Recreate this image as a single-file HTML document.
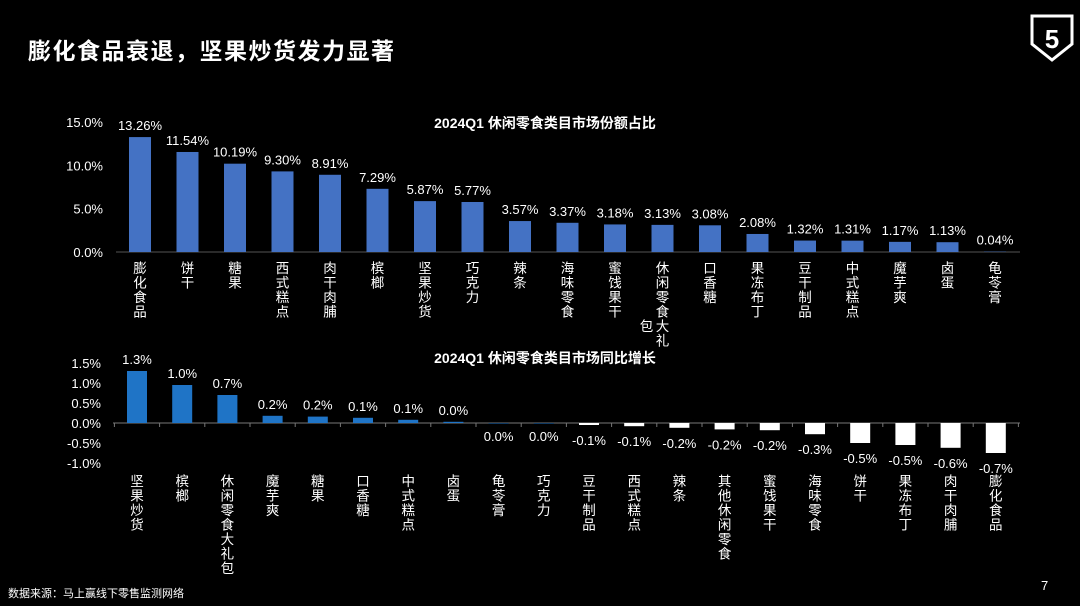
<!DOCTYPE html>
<html><head><meta charset="utf-8">
<style>
html,body{margin:0;padding:0;background:#000;}
body{width:1080px;height:606px;overflow:hidden;position:relative;font-family:"Liberation Sans","Noto Sans CJK SC",sans-serif;color:#fff;}
.title{position:absolute;left:28px;top:32px;font-size:23px;font-weight:bold;letter-spacing:1.5px;}
.src{position:absolute;left:8px;top:585px;font-size:11px;}
.pg{position:absolute;left:1041px;top:578px;font-size:13px;}
svg{position:absolute;left:0;top:0;}
</style></head><body>
<div class="title">膨化食品衰退，坚果炒货发力显著</div>
<div class="src">数据来源：马上赢线下零售监测网络</div>
<div class="pg">7</div>
<svg width="1080" height="606" id="chart">
  <g transform="translate(1030,14)">
    <path d="M2 2 H42 V30 L22 46 L2 30 Z" fill="none" stroke="#fff" stroke-width="3"/>
    <text x="22" y="34" font-size="26" font-weight="bold" fill="#fff" text-anchor="middle" font-family="Liberation Sans,sans-serif">5</text>
  </g>
</svg>
<script>
const topCats=["膨化食品","饼干","糖果","西式糕点","肉干肉脯","槟榔","坚果炒货","巧克力","辣条","海味零食","蜜饯果干","休闲零食大礼包","口香糖","果冻布丁","豆干制品","中式糕点","魔芋爽","卤蛋","龟苓膏"];
const topVals=[13.26,11.54,10.19,9.30,8.91,7.29,5.87,5.77,3.57,3.37,3.18,3.13,3.08,2.08,1.32,1.31,1.17,1.13,0.04];
const topTicks=[0,5,10,15];
const botCats=["坚果炒货","槟榔","休闲零食大礼包","魔芋爽","糖果","口香糖","中式糕点","卤蛋","龟苓膏","巧克力","豆干制品","西式糕点","辣条","其他休闲零食","蜜饯果干","海味零食","饼干","果冻布丁","肉干肉脯","膨化食品"];
const botVals=[1.3,0.95,0.7,0.18,0.16,0.13,0.08,0.03,0.0,0.0,-0.05,-0.08,-0.12,-0.16,-0.18,-0.28,-0.5,-0.55,-0.62,-0.75];
const botLabels=["1.3%","1.0%","0.7%","0.2%","0.2%","0.1%","0.1%","0.0%","0.0%","0.0%","-0.1%","-0.1%","-0.2%","-0.2%","-0.2%","-0.3%","-0.5%","-0.5%","-0.6%","-0.7%"];
const botTicks=[-1.0,-0.5,0,0.5,1.0,1.5];

const NS="http://www.w3.org/2000/svg";
const svg=document.getElementById('chart');
function mk(tag,attrs,parent){const e=document.createElementNS(NS,tag);for(const k in attrs)e.setAttribute(k,attrs[k]);(parent||svg).appendChild(e);return e;}
const F='Liberation Sans, Noto Sans CJK SC, sans-serif';

// top chart
const tY=v=>252-v*(130/15);
const tX=i=>140+i*47.5;
let g1=mk('g',{});


let t1=mk('text',{x:545,y:128,'font-size':14,'font-weight':'bold',fill:'#fff','text-anchor':'middle','font-family':F},g1);
t1.textContent='2024Q1 休闲零食类目市场份额占比';


topTicks.forEach(v=>{const t=mk('text',{x:103,y:tY(v)+5,'font-size':13,fill:'#fff','text-anchor':'end','font-family':F},g1);t.textContent=v.toFixed(1)+'%';

});
mk('line',{x1:116,x2:1020,y1:252,y2:252,stroke:'#555','stroke-width':1},g1);
function vlabel(parent,x,y,s,maxc,wrapRow){
  const cols=[];for(let i=0;i<s.length;i+=maxc)cols.push(s.slice(i,i+maxc));
  cols.forEach((c,ci)=>{[...c].forEach((ch,k)=>{const row=ci>0?wrapRow+k:k;const t=mk('text',{x:x-ci*16,y:y+row*14.5,'font-size':13.5,fill:'#fff','text-anchor':'middle','font-family':F},parent);t.textContent=ch;
  
  });});
}
topVals.forEach((v,i)=>{
  const x=tX(i);
  const r=mk('rect',{x:x-11,y:tY(v),width:22,height:252-tY(v),fill:'#4472C4'},g1);
  
  
  const l=mk('text',{x:x,y:tY(v)-7,'font-size':13,fill:'#fff','text-anchor':'middle','font-family':F},g1);
  l.textContent=v.toFixed(2)+'%';
  
  
  vlabel(g1,x,273,topCats[i],6,4);
});

// bottom chart
const bY=v=>423-v*40;
const bX=i=>137+i*45.2;
let g2=mk('g',{});


let t2=mk('text',{x:545,y:363,'font-size':14,'font-weight':'bold',fill:'#fff','text-anchor':'middle','font-family':F},g2);
t2.textContent='2024Q1 休闲零食类目市场同比增长';


botTicks.forEach(v=>{const t=mk('text',{x:101,y:bY(v)+5,'font-size':13,fill:'#fff','text-anchor':'end','font-family':F},g2);t.textContent=v.toFixed(1)+'%';

});
mk('line',{x1:113,x2:1020,y1:423,y2:423,stroke:'#777','stroke-width':1},g2);
for(let i=0;i<=botCats.length;i++){mk('line',{x1:bX(i)-22.6,x2:bX(i)-22.6,y1:423,y2:427,stroke:'#777'},g2);}
botVals.forEach((v,i)=>{
  const x=bX(i);
  const top=Math.min(bY(v),423),h=Math.abs(bY(v)-423);
  const r=mk('rect',{x:x-10,y:top,width:20,height:Math.max(h,0.5),fill:v>=0?'#1f74c6':'#fff'},g2);
  
  
  const ly=v>0?bY(v)-7:(v<0?bY(v)+20:441);
  const l=mk('text',{x:x,y:ly,'font-size':13,fill:'#fff','text-anchor':'middle','font-family':F},g2);
  l.textContent=botLabels[i];
  
  
  vlabel(g2,x,486,botCats[i],8,0);
});
</script>
</body></html>
